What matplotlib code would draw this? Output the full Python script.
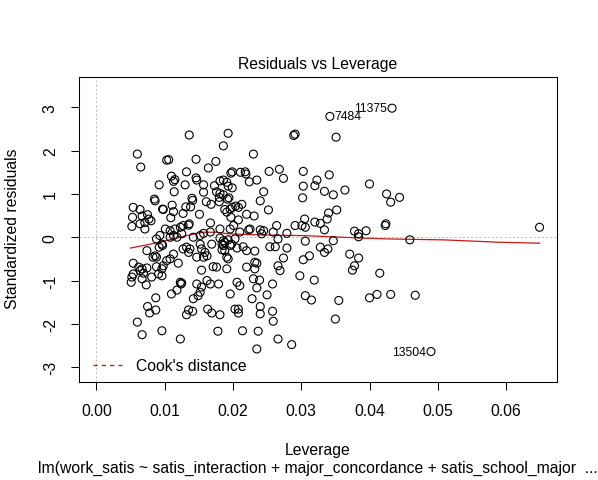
import matplotlib
matplotlib.use("Agg")
import matplotlib.pyplot as plt
from matplotlib.lines import Line2D

# leverage (hat values) and standardized residuals
leverage = [
    0.0136, 0.0060, 0.0065, 0.0103, 0.0106, 0.0146, 0.0164, 0.0132, 0.0110, 0.0113,
    0.0115, 0.0146, 0.0147, 0.0092, 0.0114, 0.0130, 0.0157, 0.0157, 0.0173, 0.0085,
    0.0086, 0.0140, 0.0141, 0.0161, 0.0168, 0.0111, 0.0097, 0.0098, 0.0131, 0.0138,
    0.0054, 0.0064, 0.0113, 0.0127, 0.0151, 0.0075, 0.0077, 0.0080, 0.0053, 0.0067,
    0.0109, 0.0064, 0.0071, 0.0136, 0.0167, 0.0193, 0.0289, 0.0291, 0.0186, 0.0230,
    0.0175, 0.0199, 0.0197, 0.0211, 0.0218, 0.0219, 0.0253, 0.0268, 0.0303, 0.0274,
    0.0181, 0.0186, 0.0191, 0.0224, 0.0235, 0.0193, 0.0199, 0.0303, 0.0176, 0.0181,
    0.0180, 0.0186, 0.0192, 0.0194, 0.0245, 0.0240, 0.0302, 0.0180, 0.0213, 0.0208,
    0.0204, 0.0188, 0.0191, 0.0196, 0.0199, 0.0252, 0.0220, 0.0231, 0.0197, 0.0208,
    0.0305, 0.0052, 0.0071, 0.0101, 0.0108, 0.0115, 0.0123, 0.0127, 0.0135, 0.0093,
    0.0088, 0.0096, 0.0108, 0.0113, 0.0118, 0.0125, 0.0142, 0.0152, 0.0157, 0.0167,
    0.0092, 0.0097, 0.0074, 0.0086, 0.0083, 0.0088, 0.0113, 0.0127, 0.0132, 0.0137,
    0.0135, 0.0152, 0.0154, 0.0159, 0.0162, 0.0157, 0.0169, 0.0147, 0.0108, 0.0103,
    0.0120, 0.0054, 0.0062, 0.0064, 0.0067, 0.0069, 0.0074, 0.0088, 0.0096, 0.0098,
    0.0091, 0.0096, 0.0081, 0.0054, 0.0052, 0.0067, 0.0051, 0.0073, 0.0154, 0.0171,
    0.0123, 0.0124, 0.0147, 0.0162, 0.0167, 0.0154, 0.0118, 0.0110, 0.0152, 0.0149,
    0.0142, 0.0087, 0.0075, 0.0078, 0.0087, 0.0135, 0.0141, 0.0132, 0.0163, 0.0169,
    0.0060, 0.0096, 0.0067, 0.0123, 0.0125,
    0.0181, 0.0196, 0.0201, 0.0210, 0.0223, 0.0225, 0.0240, 0.0245, 0.0242, 0.0259,
    0.0264, 0.0279, 0.0291, 0.0301, 0.0306, 0.0181, 0.0186, 0.0193, 0.0203, 0.0184,
    0.0186, 0.0188, 0.0196, 0.0198, 0.0206, 0.0215, 0.0220, 0.0232, 0.0254, 0.0262,
    0.0266, 0.0279, 0.0306, 0.0184, 0.0188, 0.0193, 0.0191, 0.0176, 0.0191, 0.0220,
    0.0232, 0.0235, 0.0232, 0.0266, 0.0269, 0.0274, 0.0303, 0.0312, 0.0298, 0.0319,
    0.0179, 0.0206, 0.0210, 0.0230, 0.0239, 0.0235, 0.0258, 0.0196, 0.0228, 0.0250,
    0.0306, 0.0315, 0.0203, 0.0208, 0.0208, 0.0240, 0.0240, 0.0258, 0.0259, 0.0181,
    0.0178, 0.0214, 0.0237, 0.0266, 0.0286, 0.0235,
    0.0351, 0.0341, 0.0323, 0.0320, 0.0334, 0.0347, 0.0364, 0.0400,
    0.0425, 0.0431, 0.0444, 0.0352, 0.0340, 0.0338, 0.0320, 0.0328, 0.0424, 0.0334,
    0.0378, 0.0384, 0.0384, 0.0395, 0.0423, 0.0347, 0.0459, 0.0328, 0.0334, 0.0339,
    0.0371, 0.0384, 0.0378, 0.0375, 0.0415, 0.0355, 0.0400, 0.0411, 0.0431, 0.0467,
    0.0350, 0.0649,
]
std_resid = [
    2.36, 1.92, 1.62, 1.78, 1.79, 1.80, 1.60, 1.51, 1.41, 1.29,
    1.33, 1.37, 1.32, 1.21, 1.05, 1.21, 1.21, 1.04, 1.19, 0.88,
    0.84, 0.90, 0.85, 0.82, 0.76, 0.74, 0.65, 0.64, 0.70, 0.70,
    0.69, 0.64, 0.59, 0.55, 0.53, 0.52, 0.42, 0.38, 0.46, 0.49,
    0.45, 0.31, 0.34, 0.31, 0.33, 2.40, 2.35, 2.38, 2.11, 1.92,
    1.75, 1.51, 1.48, 1.50, 1.51, 1.46, 1.52, 1.57, 1.52, 1.36,
    1.30, 1.32, 1.27, 1.28, 1.32, 1.18, 1.14, 1.18, 1.05, 1.01,
    0.92, 0.98, 0.88, 0.91, 1.05, 0.84, 0.91, 0.82, 0.76, 0.69,
    0.72, 0.64, 0.58, 0.65, 0.69, 0.63, 0.53, 0.49, 0.46, 0.40,
    0.42, 0.25, 0.19, 0.19, 0.15, 0.19, 0.23, 0.27, 0.28, 0.04,
    -0.04, -0.16, 0.00, 0.04, 0.00, 0.08, 0.00, 0.04, 0.09, 0.12,
    -0.23, -0.19, -0.31, -0.43, -0.46, -0.46, -0.39, -0.27, -0.23, -0.27,
    -0.35, -0.16, -0.27, -0.35, -0.43, -0.46, -0.16, -0.46, -0.50, -0.54,
    -0.60, -0.60, -0.69, -0.77, -0.73, -0.83, -0.71, -0.68, -0.73, -0.66,
    -0.85, -0.89, -0.92, -0.85, -0.92, -0.96, -1.04, -1.10, -0.76, -0.68,
    -1.04, -1.08, -1.08, -1.00, -1.08, -1.15, -1.22, -1.31, -1.27, -1.35,
    -1.42, -1.40, -1.60, -1.75, -1.68, -1.68, -1.71, -1.79, -1.66, -1.75,
    -1.96, -2.16, -2.25, -2.35, -1.06,
    0.19, 0.19, 0.27, 0.12, 0.17, 0.19, 0.17, 0.15, 0.08, 0.12,
    0.27, 0.09, 0.27, 0.27, 0.23, -0.02, -0.08, -0.06, -0.04, -0.16,
    -0.19, -0.12, -0.19, -0.16, -0.25, -0.22, -0.31, -0.32, -0.22, -0.22,
    -0.04, -0.25, -0.09, -0.29, -0.31, -0.50, -0.46, -0.69, -0.73, -0.69,
    -0.58, -0.60, -0.73, -0.66, -0.77, -0.48, -0.52, -0.43, -0.89, -0.99,
    -1.08, -1.04, -1.12, -0.96, -0.99, -1.17, -1.08, -1.31, -1.42, -1.33,
    -1.35, -1.45, -1.66, -1.66, -1.75, -1.60, -1.77, -1.71, -1.94, -1.79,
    -2.17, -2.16, -2.17, -2.35, -2.48, -2.58,
    2.31, 1.44, 1.32, 1.19, 1.06, 0.98, 1.09, 1.23,
    1.00, 0.81, 0.92, 0.63, 0.56, 0.42, 0.35, 0.32, 0.31, 0.17,
    0.14, 0.08, 0.01, 0.15, 0.27, -0.08, -0.06, -0.23, -0.35, -0.27,
    -0.39, -0.48, -0.66, -0.76, -0.83, -1.46, -1.40, -1.32, -1.32, -1.34,
    -1.89, 0.23,
]

# flagged observations
id_names = ["7484", "11375", "13504"]
id_lev = [0.0342, 0.0433, 0.0490]
id_res = [2.79, 2.98, -2.64]
id_side = ["right", "left", "left"]

# red smoother line
smooth_lev = [0.0050, 0.0093, 0.0132, 0.0156, 0.0176, 0.0195, 0.0239,
              0.0305, 0.0359, 0.0427, 0.0510, 0.0588, 0.0649]
smooth_res = [-0.25, -0.115, 0.037, 0.115, 0.115, 0.076, 0.053,
              0.037, 0.0, -0.039, -0.062, -0.115, -0.138]

x_ticks = [0.00, 0.01, 0.02, 0.03, 0.04, 0.05, 0.06]
y_ticks = [-3, -2, -1, 0, 1, 2, 3]

plt.rcParams['font.family'] = ['Liberation Sans', 'DejaVu Sans']
red = "#C81818"
grey = "#BEBEBE"
fs = 11.3

W, H = 598, 481
fig = plt.figure(figsize=(W / 100, H / 100), dpi=100)
left, right, top, bottom = 78.6, 557.3, 78.0, 383.3
ax = fig.add_axes([left / W, 1 - bottom / H, (right - left) / W, (bottom - top) / H])

ax.axhline(0, color=grey, lw=0.75, ls=(0, (2, 2)), zorder=1)
ax.axvline(0, color=grey, lw=0.75, ls=(0, (2, 2)), zorder=1)
ax.plot(smooth_lev, smooth_res, color=red, lw=0.9, zorder=2)
ax.scatter(leverage + id_lev, std_resid + id_res, s=33, facecolors='none',
           edgecolors='black', linewidths=0.8, zorder=3)

for name, xv, yv, side in zip(id_names, id_lev, id_res, id_side):
    dx = 3.5 if side == "right" else -3.5
    ax.annotate(name, (xv, yv), xytext=(dx, 0), textcoords='offset points',
                ha='left' if side == "right" else 'right', va='center', fontsize=8.7)

ax.set_xlim(-0.0026, 0.0675)
ax.set_ylim(-3.35, 3.70)
ax.set_xticks(x_ticks)
ax.set_xticklabels([f"{v:.2f}" for v in x_ticks])
ax.set_yticks(y_ticks)
ax.set_yticklabels([str(v) for v in y_ticks], rotation=90, va='center')
ax.tick_params(direction='out', length=5.5, width=0.75, labelsize=fs, pad=9.5)
for s in ax.spines.values():
    s.set_linewidth(0.75)

handle = Line2D([], [], color=red, lw=1.0, ls=(0, (3, 3)))
ax.legend([handle], ["Cook's distance"], loc='lower left',
          bbox_to_anchor=((93.3 - left) / (right - left), 0.03),
          frameon=False, fontsize=fs, borderpad=0, borderaxespad=0,
          handlelength=1.8, handletextpad=0.95)

cx = (left + right) / 2 / W
fig.text(cx, 1 - 65 / H, "Residuals vs Leverage", ha='center', va='center', fontsize=fs)
fig.text(cx, 1 - 451 / H, "Leverage", ha='center', va='center', fontsize=fs)
fig.text(cx, 1 - 468.5 / H,
         "lm(work_satis ~ satis_interaction + major_concordance + satis_school_major  ...",
         ha='center', va='center', fontsize=fs)
fig.text(12.7 / W, 1 - 229 / H, "Standardized residuals", rotation=90,
         ha='center', va='center', fontsize=fs)

fig.savefig("out.png", dpi=100)
